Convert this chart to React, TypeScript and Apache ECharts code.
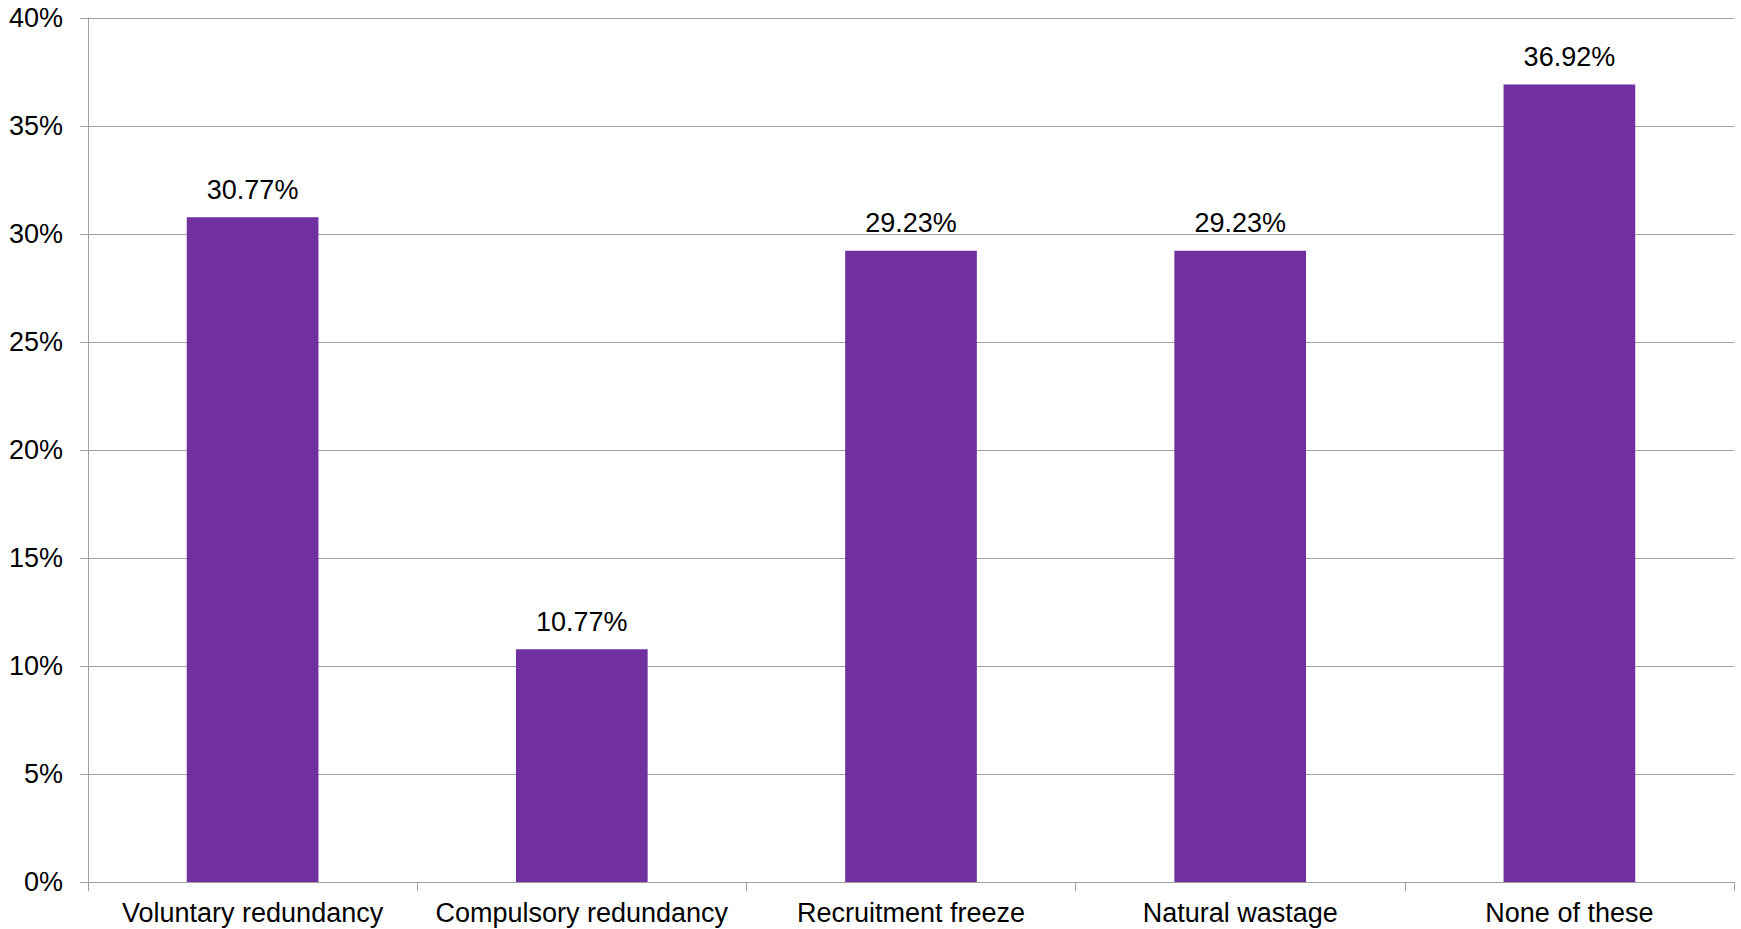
import React, { useEffect, useRef } from "react";
import * as echarts from "echarts";

const categories = [
  "Voluntary redundancy",
  "Compulsory redundancy",
  "Recruitment freeze",
  "Natural wastage",
  "None of these",
];
const values = [30.77, 10.77, 29.23, 29.23, 36.92];

const FONT = "'Liberation Sans', Arial, sans-serif";

export default function App() {
  const ref = useRef<HTMLDivElement>(null);
  useEffect(() => {
    document.body.style.margin = "0";
    const chart = echarts.init(ref.current!, null, { renderer: "svg" });
    chart.setOption({
      animation: false,
      backgroundColor: "#ffffff",
      grid: { left: 88, right: 7, top: 18, bottom: 47, containLabel: false },
      xAxis: {
        type: "category",
        data: categories,
        boundaryGap: true,
        axisLine: { show: true, lineStyle: { color: "#a0a0a0", width: 1 } },
        axisTick: { show: true, length: 9, alignWithLabel: false, lineStyle: { color: "#a0a0a0" } },
        axisLabel: { color: "#000", fontFamily: FONT, fontSize: 27, margin: 17, interval: 0 },
      },
      yAxis: {
        type: "value",
        min: 0,
        max: 40,
        interval: 5,
        axisLine: { show: true, lineStyle: { color: "#a0a0a0", width: 1 } },
        axisTick: { show: true, length: 8, lineStyle: { color: "#a0a0a0" } },
        axisLabel: { color: "#000", fontFamily: FONT, fontSize: 27, margin: 25, formatter: "{value}%" },
        splitLine: { show: true, lineStyle: { color: "#a0a0a0", width: 1 } },
      },
      series: [
        {
          type: "bar",
          data: values,
          barWidth: "40%",
          itemStyle: { color: "#7030a0" },
          label: {
            show: true,
            position: "top",
            distance: 14,
            color: "#000",
            fontFamily: FONT,
            fontSize: 27,
            formatter: (p: any) => p.value.toFixed(2) + "%",
          },
        },
      ],
    });
    return () => chart.dispose();
  }, []);
  return <div ref={ref} style={{ width: 1741, height: 929 }} />;
}
